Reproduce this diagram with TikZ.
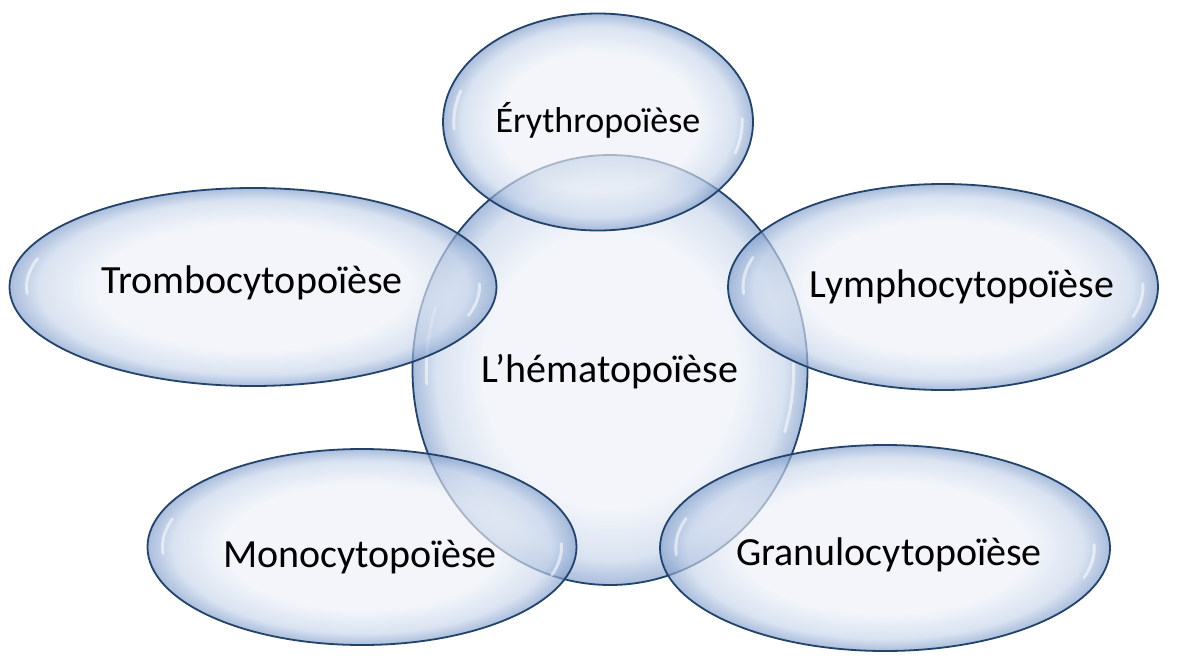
\documentclass[tikz,border=0pt]{standalone}
\usepackage{fontspec}
\setmainfont{Carlito}
\usetikzlibrary{shapes.geometric,calc}

\definecolor{bin}{HTML}{EDF1F8}
\definecolor{bmid}{HTML}{C7D5EB}
\definecolor{bedge}{HTML}{7E9CCB}
\definecolor{bline}{HTML}{24436A}

% soft bubble: pale centre, blue glow at the rim
\pgfdeclareradialshading{bubble}{\pgfpoint{0bp}{0bp}}{%
  color(0bp)=(bin); color(16bp)=(bin); color(22bp)=(bmid);
  color(25bp)=(bedge); color(50bp)=(bedge)}

\tikzset{
  bubble/.style={ellipse, draw=bline, line width=1.8pt, shade, shading=bubble,
    fill opacity=0.66, draw opacity=1, inner sep=0pt},
  label/.style={anchor=base, inner sep=0pt, text=black,
    font=\fontsize{40}{48}\selectfont},
  shine/.style={white, line width=3pt, line cap=round, opacity=0.55},
}

% small glossy reflections just inside the left and right rims
% #1 node, #2 x radius, #3 y radius (pt)
\newcommand{\shineon}[3]{%
  \draw[shine] ($(#1.center)+({0.93*#2*cos(162)*1pt},{0.93*#3*sin(162)*1pt})$)
    arc[start angle=162, end angle=184, x radius={0.93*#2*1pt}, y radius={0.93*#3*1pt}];
  \draw[shine] ($(#1.center)+({0.93*#2*cos(2)*1pt},{0.93*#3*sin(2)*1pt})$)
    arc[start angle=2, end angle=-18, x radius={0.93*#2*1pt}, y radius={0.93*#3*1pt}];
}

\begin{document}
\begin{tikzpicture}[x=1pt,y=-1pt]
\useasboundingbox (0,0) rectangle (1198,661);
\fill[white] (0,0) rectangle (1198,661);

\node[bubble, minimum width=395pt, minimum height=430pt] (hema) at (610,370) {};
\shineon{hema}{197.5}{215}
\node[bubble, minimum width=310pt, minimum height=217pt] (ery) at (598,122) {};
\shineon{ery}{155}{108.5}
\node[bubble, minimum width=487pt, minimum height=198pt] (trom) at (253,287) {};
\shineon{trom}{243.5}{99}
\node[bubble, minimum width=430pt, minimum height=206pt] (lymph) at (943,287) {};
\shineon{lymph}{215}{103}
\node[bubble, minimum width=429pt, minimum height=196pt] (mono) at (362,547) {};
\shineon{mono}{214.5}{98}
\node[bubble, minimum width=450pt, minimum height=206pt] (gran) at (885,548) {};
\shineon{gran}{225}{103}

\node[label] (hemalabel) at (610,382) {L’hématopoïèse};
\node[label, font=\fontsize{36}{44}\selectfont] (erylabel) at (598,132) {Érythropoïèse};
\node[label] (tromlabel) at (252,293) {Trombocytopoïèse};
\node[label] (lymphlabel) at (962,297) {Lymphocytopoïèse};
\node[label] (monolabel) at (360,567) {Monocytopoïèse};
\node[label] (granlabel) at (889,565) {Granulocytopoïèse};
\end{tikzpicture}
\end{document}
